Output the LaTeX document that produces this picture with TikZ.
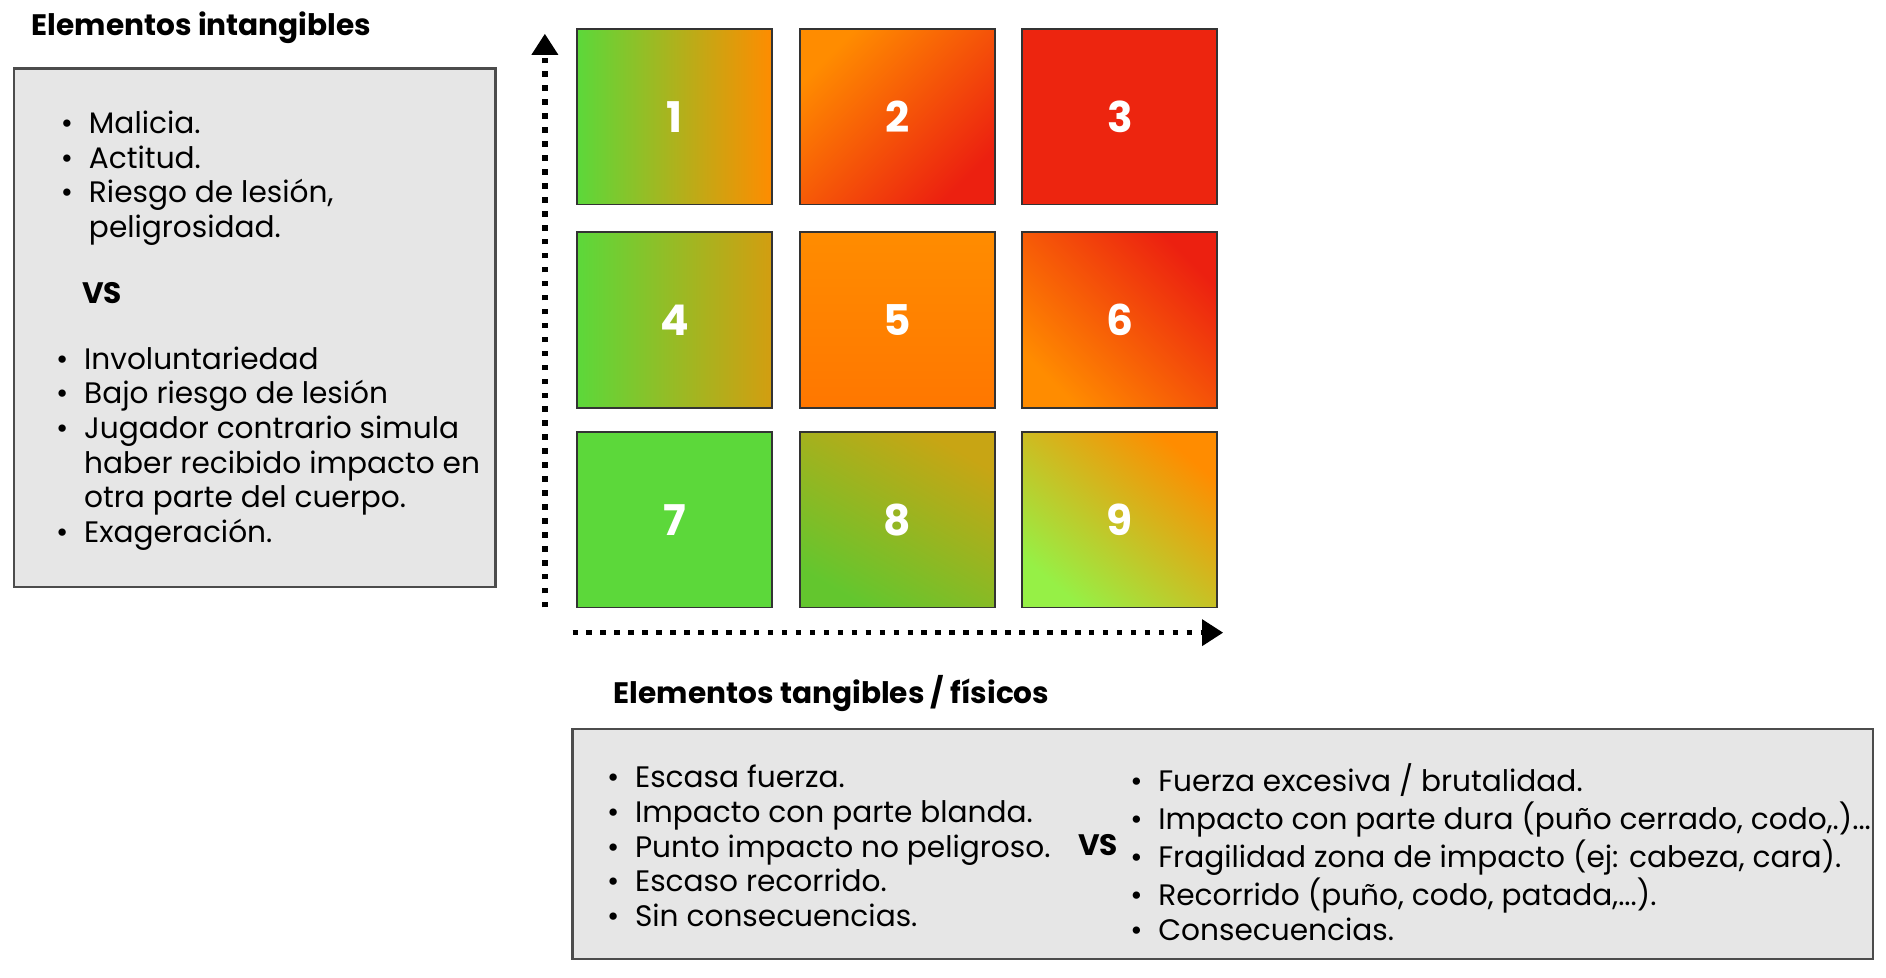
\documentclass[tikz,border=0pt]{standalone}
\usepackage{fontspec}
\setmainfont{Poppins}
\usetikzlibrary{arrows.meta, positioning}
\definecolor{boxgray}{RGB}{230,230,230}
\definecolor{cgreen}{RGB}{92,216,58}
\definecolor{corange}{RGB}{255,140,0}
\definecolor{cred}{RGB}{236,32,16}
\definecolor{colive}{RGB}{200,165,20}
\definecolor{clight}{RGB}{150,240,70}
\tikzset{
  infobox/.style={draw=black!70, fill=boxgray, line width=0.5pt},
  cell/.style={draw=black!80, line width=0.4pt, minimum width=1.62cm, minimum height=1.46cm, text=white, font=\fontsize{10}{12}\selectfont\bfseries},
  heading/.style={anchor=west, font=\fontsize{7}{8}\selectfont\bfseries},
  listtext/.style={anchor=north west, inner sep=0pt, font=\fontsize{7}{8.2}\selectfont},
  axis/.style={line width=1.3pt, dotted, -{Triangle[length=5pt,width=6pt,line cap=butt]}}
}
\newcommand{\bl}{\textbullet}
\begin{document}
\begin{tikzpicture}[x=0.01cm, y=-0.01cm]
\useasboundingbox (0,0) rectangle (1568,813);

% Left panel
\node[heading] (ttl) at (14,23) {Elementos intangibles};
\draw[infobox] (12,57) rectangle (412,488);
\node[listtext] (intA) at (50,90) {\begin{tabular}{@{}l@{\ \ }l@{}}
\bl & Malicia.\\ \bl & Actitud.\\ \bl & Riesgo de lesión,\\ & peligrosidad.\end{tabular}};
\node[heading, font=\fontsize{7}{8}\selectfont\bfseries] (vsA) at (56,244) {VS};
\node[listtext] (intB) at (46,286) {\begin{tabular}{@{}l@{\ \ }l@{}}
\bl & Involuntariedad\\ \bl & Bajo riesgo de lesión\\ \bl & Jugador contrario simula\\ & haber recibido impacto en\\ & otra parte del cuerpo.\\ \bl & Exageración.\end{tabular}};

% Matrix
\node[cell, left color=cgreen, right color=corange] (c1) at (561,97) {1};
\node[cell, top color=corange, bottom color=cred, shading angle=45] (c2) at (746,97) {2};
\node[cell, fill=cred!95!orange] (c3) at (931,97) {3};
\node[cell, left color=cgreen, right color=colive!80!orange] (c4) at (561,266) {4};
\node[cell, top color=corange, bottom color=corange!85!red] (c5) at (746,266) {5};
\node[cell, top color=cred, bottom color=corange, shading angle=-45] (c6) at (931,266) {6};
\node[cell, fill=cgreen] (c7) at (561,432) {7};
\node[cell, top color=colive, bottom color=cgreen!80!olive, shading angle=-30] (c8) at (746,432) {8};
\node[cell, top color=orange!90!yellow, bottom color=clight, shading angle=-40] (c9) at (931,432) {9};

% Axes
\coordinate (vy0) at (453,505);
\coordinate (vy1) at (453,28);
\coordinate (hx0) at (476,526);
\coordinate (hx1) at (1017,526);
\draw[axis] (vy0) -- (vy1);
\draw[axis] (hx0) -- (hx1);

% Bottom panel
\node[heading] (ttlB) at (498,577) {Elementos tangibles / físicos};
\draw[infobox] (476,606) rectangle (1557,797);
\node[listtext] (tanA) at (504,634) {\begin{tabular}{@{}l@{\ \ }l@{}}
\bl & Escasa fuerza.\\ \bl & Impacto con parte blanda.\\ \bl & Punto impacto no peligroso.\\ \bl & Escaso recorrido.\\ \bl & Sin consecuencias.\end{tabular}};
\node[heading] (vsB) at (884,703) {VS};
\node[listtext] (tanB) at (939,634) {\begin{tabular}{@{}l@{\ \ }l@{}}
\bl & Fuerza excesiva / brutalidad.\\ \bl & Impacto con parte dura (puño cerrado, codo,.)...\\ \bl & Fragilidad zona de impacto (ej: cabeza, cara).\\ \bl & Recorrido (puño, codo, patada,...).\\ \bl & Consecuencias.\end{tabular}};
\end{tikzpicture}
\end{document}
